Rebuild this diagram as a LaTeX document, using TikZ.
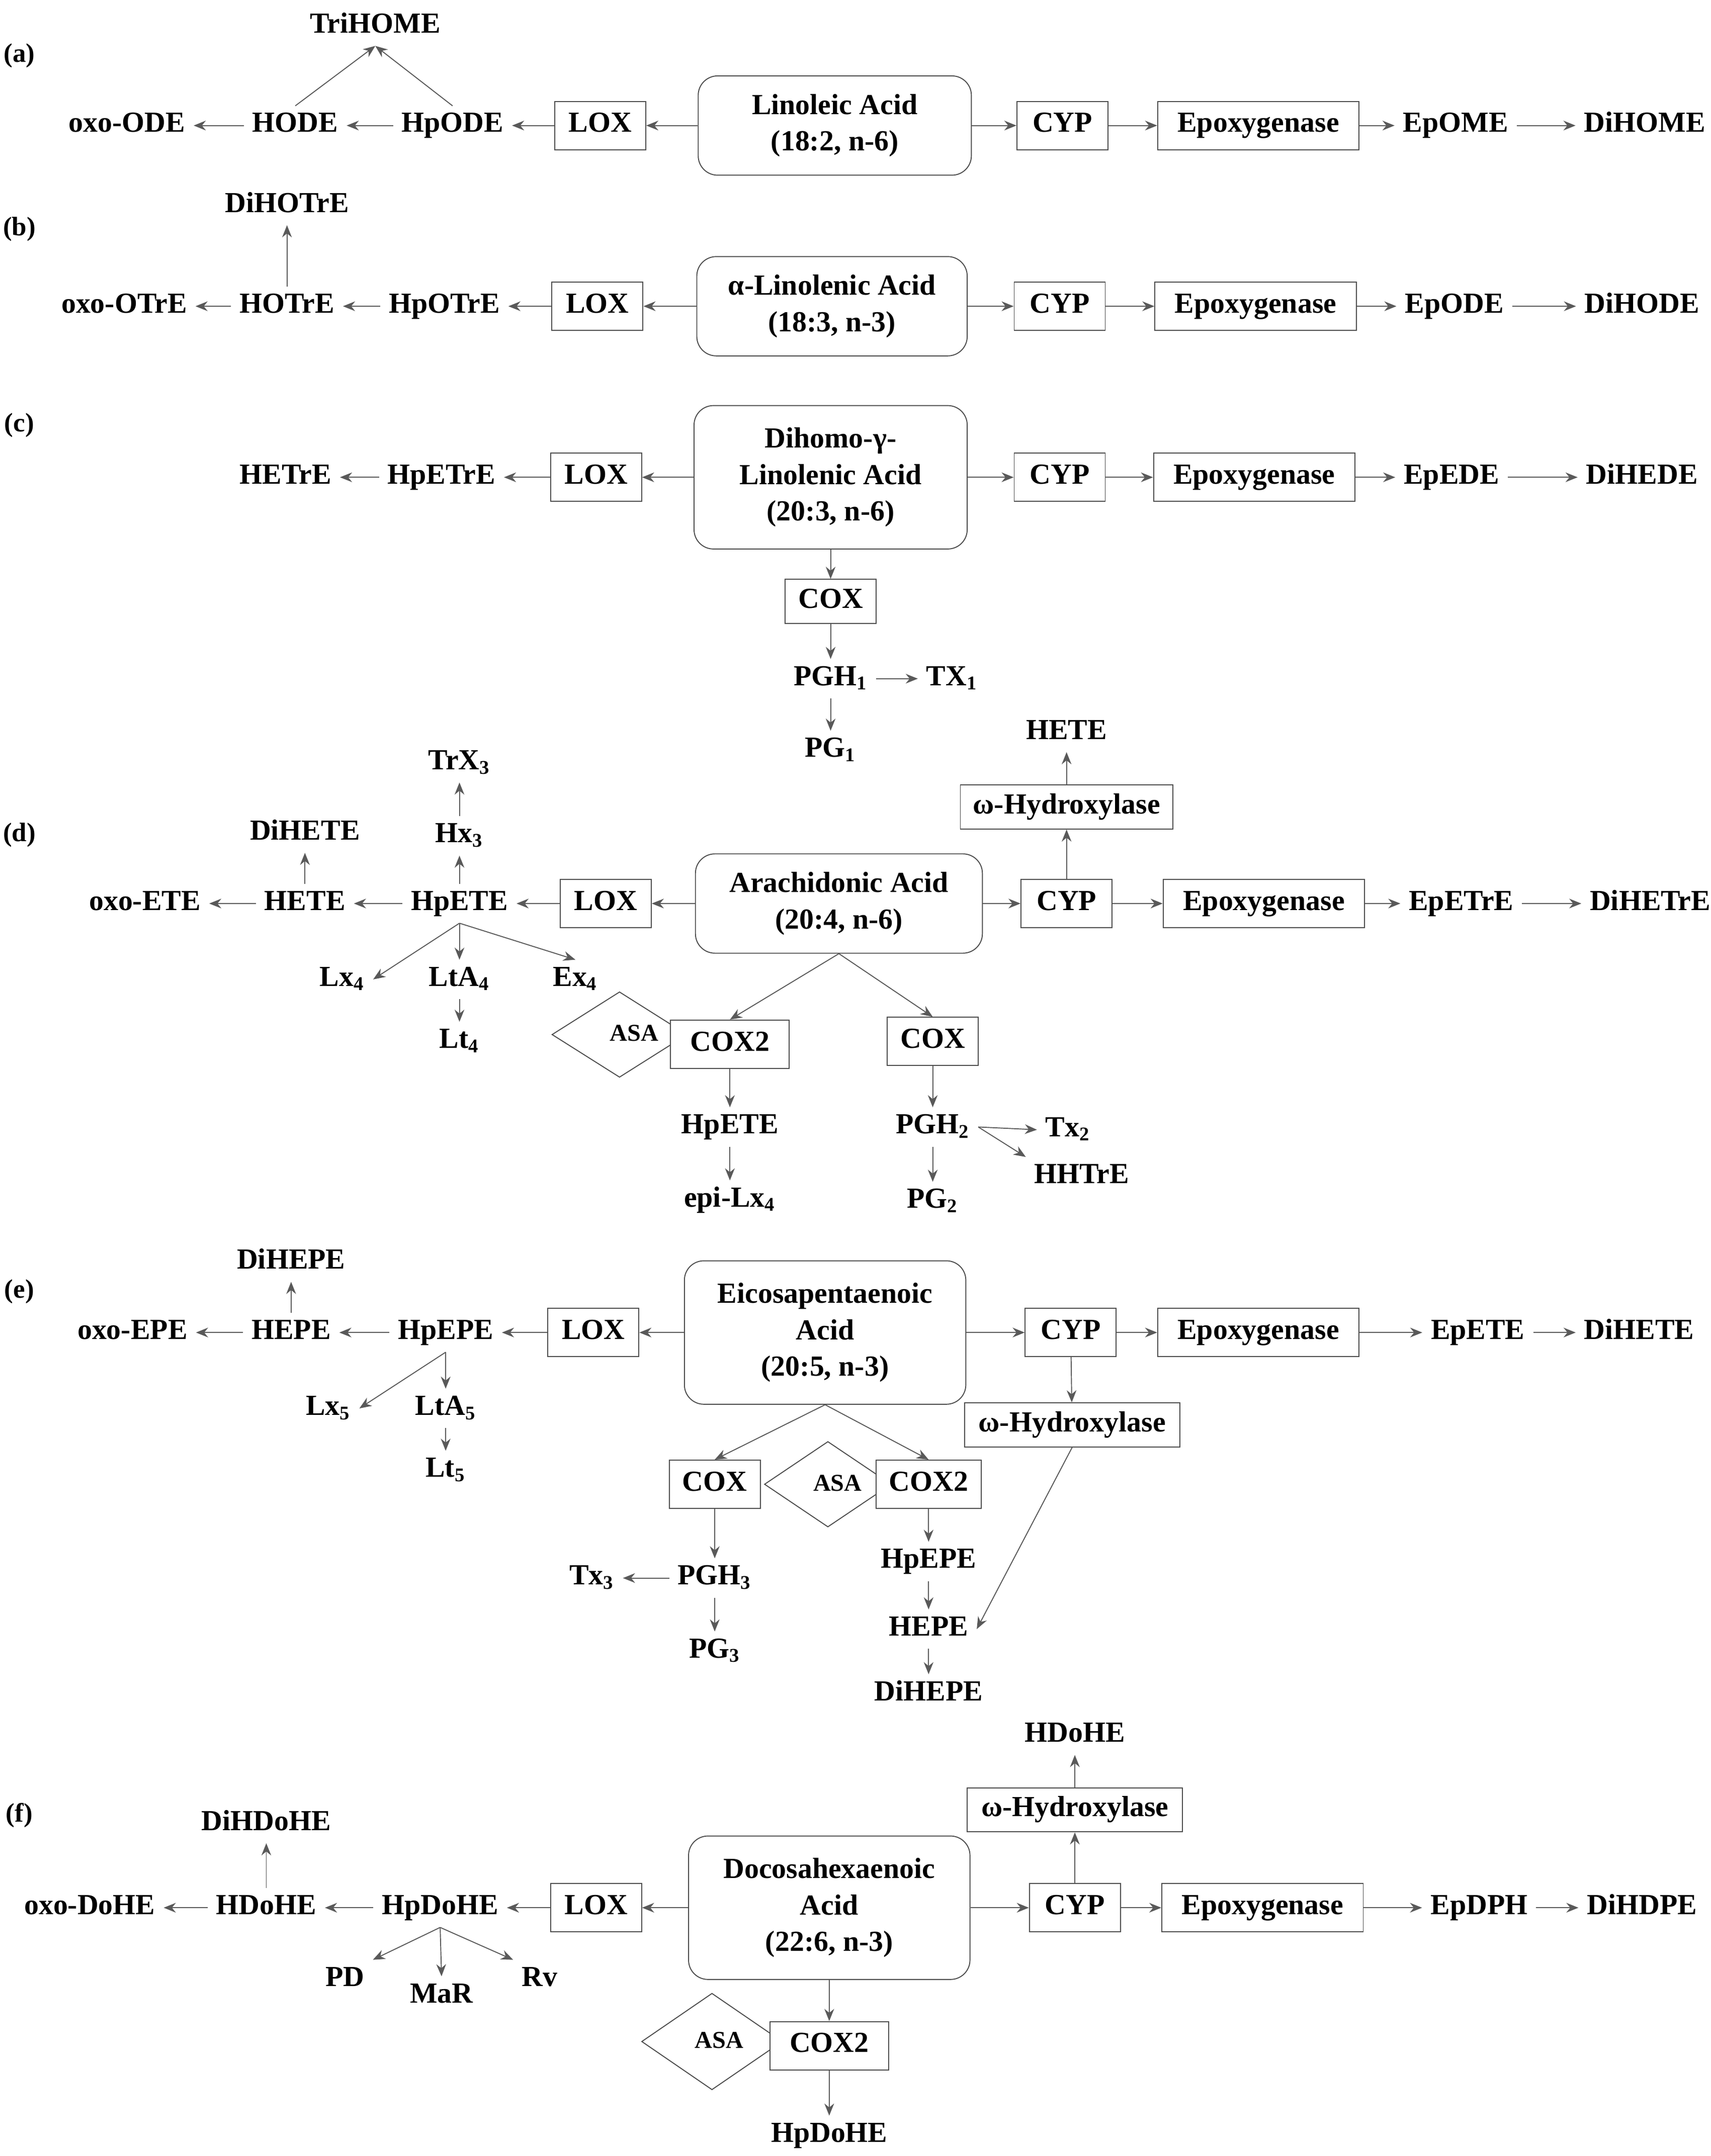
\documentclass[tikz,border=0pt]{standalone}
\usepackage{fontspec}
\setmainfont{Liberation Serif}
\usetikzlibrary{arrows.meta, positioning, shapes.geometric}

\begin{document}
\begin{tikzpicture}[
    x=0.02cm, y=-0.02cm,
    every node/.style={font=\fontsize{12}{15}\selectfont\bfseries, text height=1.6ex, text depth=.4ex},
    % Node styles
    box/.style={rectangle, draw=black!70, fill=white, minimum width=1.32cm, minimum height=0.7cm, inner sep=2pt},
    acid/.style={rectangle, draw=black!70, rounded corners=8pt, fill=white, align=center, minimum height=1.44cm, text height=, text depth=},
    asa/.style={diamond, draw=black!70, fill=white, aspect=1.55, inner sep=1pt, font=\fontsize{10}{12}\selectfont\bfseries},
    tag/.style={font=\fontsize{11}{13}\selectfont\bfseries},
    arr/.style={-{Stealth[length=5pt,width=4pt]}, draw=black!65},
]
\useasboundingbox (0,0) rectangle (1240,1563);

% ================= (a) =================
\node[tag] (la) at (14,40) {(a)};
\node[acid, minimum width=3.96cm] (aAcid) at (605,91) {Linoleic Acid\\(18:2, n-6)};
\node[box] (aLox) at (435,91) {LOX};
\node (aHp) at (328,91) {HpODE};
\node (aH) at (214,91) {HODE};
\node (aOxo) at (92,91) {oxo-ODE};
\node (aTri) at (272,19) {TriHOME};
\node[box] (aCyp) at (770,91) {CYP};
\node[box, minimum width=2.92cm] (aEpx) at (912,91) {Epoxygenase};
\node (aEp) at (1055,91) {EpOME};
\node (aDi) at (1192,91) {DiHOME};
\draw[arr] (aAcid) -- (aLox);
\draw[arr] (aLox) -- (aHp);
\draw[arr] (aHp) -- (aH);
\draw[arr] (aH) -- (aOxo);
\draw[arr] (aH.north) -- (aTri.south);
\draw[arr] (aHp.north) -- (aTri.south);
\draw[arr] (aAcid) -- (aCyp);
\draw[arr] (aCyp) -- (aEpx);
\draw[arr] (aEpx) -- (aEp);
\draw[arr] (aEp) -- (aDi);

% ================= (b) =================
\node[tag] (lb) at (14,166) {(b)};
\node[acid, minimum width=3.92cm] (bAcid) at (603,222) {α-Linolenic Acid\\(18:3, n-3)};
\node[box] (bLox) at (433,222) {LOX};
\node (bHp) at (322,222) {HpOTrE};
\node (bH) at (208,222) {HOTrE};
\node (bOxo) at (90,222) {oxo-OTrE};
\node (bDi2) at (208,149) {DiHOTrE};
\node[box] (bCyp) at (768,222) {CYP};
\node[box, minimum width=2.92cm] (bEpx) at (910,222) {Epoxygenase};
\node (bEp) at (1054,222) {EpODE};
\node (bDi) at (1190,222) {DiHODE};
\draw[arr] (bAcid) -- (bLox);
\draw[arr] (bLox) -- (bHp);
\draw[arr] (bHp) -- (bH);
\draw[arr] (bH) -- (bOxo);
\draw[arr] (bH) -- (bDi2);
\draw[arr] (bAcid) -- (bCyp);
\draw[arr] (bCyp) -- (bEpx);
\draw[arr] (bEpx) -- (bEp);
\draw[arr] (bEp) -- (bDi);

% ================= (c) =================
\node[tag] (lc) at (14,308) {(c)};
\node[acid, minimum width=3.96cm, minimum height=2.08cm] (cAcid) at (602,346) {Dihomo-γ-\\Linolenic Acid\\(20:3, n-6)};
\node[box] (cLox) at (432,346) {LOX};
\node (cHp) at (320,346) {HpETrE};
\node (cH) at (207,346) {HETrE};
\node[box] (cCyp) at (768,346) {CYP};
\node[box, minimum width=2.92cm] (cEpx) at (909,346) {Epoxygenase};
\node (cEp) at (1052,346) {EpEDE};
\node (cDi) at (1190,346) {DiHEDE};
\node[box, minimum height=0.64cm] (cCox) at (602,436) {COX};
\node (cPgh) at (602,492) {PGH\textsubscript{1}};
\node (cTx) at (690,492) {TX\textsubscript{1}};
\node (cPg) at (602,544) {PG\textsubscript{1}};
\draw[arr] (cAcid) -- (cLox);
\draw[arr] (cLox) -- (cHp);
\draw[arr] (cHp) -- (cH);
\draw[arr] (cAcid) -- (cCyp);
\draw[arr] (cCyp) -- (cEpx);
\draw[arr] (cEpx) -- (cEp);
\draw[arr] (cEp) -- (cDi);
\draw[arr] (cAcid) -- (cCox);
\draw[arr] (cCox) -- (cPgh);
\draw[arr] (cPgh) -- (cTx);
\draw[arr] (cPgh) -- (cPg);

% ================= (d) =================
\node[tag] (ld) at (14,605) {(d)};
\node[acid, minimum width=4.16cm] (dAcid) at (608,655) {Arachidonic Acid\\(20:4, n-6)};
\node[box] (dLox) at (439,655) {LOX};
\node (dHp) at (333,655) {HpETE};
\node (dH) at (221,655) {HETE};
\node (dOxo) at (105,655) {oxo-ETE};
\node (dDi2) at (221,604) {DiHETE};
\node (dHx) at (333,606) {Hx\textsubscript{3}};
\node (dTrx) at (333,553) {TrX\textsubscript{3}};
\node (dLx) at (248,710) {Lx\textsubscript{4}};
\node (dLta) at (333,710) {LtA\textsubscript{4}};
\node (dEx) at (417,710) {Ex\textsubscript{4}};
\node (dLt) at (333,755) {Lt\textsubscript{4}};
\node[box] (dCyp) at (773,655) {CYP};
\node[box, minimum width=3.08cm, minimum height=0.64cm] (dOh) at (773,585) {ω-Hydroxylase};
\node (dHete) at (773,531) {HETE};
\node[box, minimum width=2.92cm] (dEpx) at (916,655) {Epoxygenase};
\node (dEp) at (1059,655) {EpETrE};
\node (dDi) at (1196,655) {DiHETrE};
\node[asa, minimum width=1.96cm, minimum height=1.24cm] (dAsa) at (449,750) {\hspace{1.2em}ASA};
\node[box, minimum width=1.72cm] (dCox2) at (529,757) {COX2};
\node[box] (dCox) at (676,755) {COX};
\node (dHp2) at (529,817) {HpETE};
\node (dEpi) at (529,870) {epi-Lx\textsubscript{4}};
\node (dPgh) at (676,817) {PGH\textsubscript{2}};
\node (dTx) at (774,819) {Tx\textsubscript{2}};
\node (dHht) at (784,853) {HHTrE};
\node (dPg) at (676,871) {PG\textsubscript{2}};
\draw[arr] (dAcid) -- (dLox);
\draw[arr] (dLox) -- (dHp);
\draw[arr] (dHp) -- (dH);
\draw[arr] (dH) -- (dOxo);
\draw[arr] (dH) -- (dDi2);
\draw[arr] (dHp) -- (dHx);
\draw[arr] (dHx) -- (dTrx);
\draw[arr] (dHp.south) -- (dLx.east);
\draw[arr] (dHp) -- (dLta);
\draw[arr] (dHp.south) -- (dEx.north);
\draw[arr] (dLta) -- (dLt);
\draw[arr] (dAcid) -- (dCyp);
\draw[arr] (dCyp) -- (dOh);
\draw[arr] (dOh) -- (dHete);
\draw[arr] (dCyp) -- (dEpx);
\draw[arr] (dEpx) -- (dEp);
\draw[arr] (dEp) -- (dDi);
\draw[arr] (dAcid.south) -- (dCox2.north);
\draw[arr] (dAcid.south) -- (dCox.north);
\draw[arr] (dCox2) -- (dHp2);
\draw[arr] (dHp2) -- (dEpi);
\draw[arr] (dCox) -- (dPgh);
\draw[arr] (dPgh) -- (dPg);
\draw[arr] (dPgh.east) -- (dTx.west);
\draw[arr] (dPgh.east) -- (dHht.north west);

% ================= (e) =================
\node[tag] (le) at (14,936) {(e)};
\node[acid, minimum width=4.08cm, minimum height=2.08cm] (eAcid) at (598,966) {Eicosapentaenoic\\Acid\\(20:5, n-3)};
\node[box] (eLox) at (430,966) {LOX};
\node (eHp) at (323,966) {HpEPE};
\node (eH) at (211,966) {HEPE};
\node (eOxo) at (96,966) {oxo-EPE};
\node (eDi2) at (211,915) {DiHEPE};
\node (eLx) at (238,1021) {Lx\textsubscript{5}};
\node (eLta) at (323,1021) {LtA\textsubscript{5}};
\node (eLt) at (323,1066) {Lt\textsubscript{5}};
\node[box] (eCyp) at (776,966) {CYP};
\node[box, minimum width=3.12cm, minimum height=0.64cm] (eOh) at (777,1033) {ω-Hydroxylase};
\node[box, minimum width=2.92cm] (eEpx) at (912,966) {Epoxygenase};
\node (eEp) at (1071,966) {EpETE};
\node (eDi) at (1188,966) {DiHETE};
\node[box] (eCox) at (518,1076) {COX};
\node[asa, minimum width=1.84cm, minimum height=1.24cm] (eAsa) at (600,1076) {\hspace{0.8em}ASA};
\node[box, minimum width=1.52cm] (eCox2) at (673,1076) {COX2};
\node (ePgh) at (518,1144) {PGH\textsubscript{3}};
\node (eTx) at (429,1144) {Tx\textsubscript{3}};
\node (ePg) at (518,1197) {PG\textsubscript{3}};
\node (eHp2) at (673,1132) {HpEPE};
\node (eH2) at (673,1181) {HEPE};
\node (eDi3) at (673,1228) {DiHEPE};
\draw[arr] (eAcid) -- (eLox);
\draw[arr] (eLox) -- (eHp);
\draw[arr] (eHp) -- (eH);
\draw[arr] (eH) -- (eOxo);
\draw[arr] (eH) -- (eDi2);
\draw[arr] (eHp.south) -- (eLx.east);
\draw[arr] (eHp) -- (eLta);
\draw[arr] (eLta) -- (eLt);
\draw[arr] (eAcid) -- (eCyp);
\draw[arr] (eCyp) -- (eEpx);
\draw[arr] (eEpx) -- (eEp);
\draw[arr] (eEp) -- (eDi);
\draw[arr] (eCyp) -- (eOh);
\draw[arr] (eOh.south) -- (eH2.east);
\draw[arr] (eAcid.south) -- (eCox.north);
\draw[arr] (eAcid.south) -- (eCox2.north);
\draw[arr] (eCox) -- (ePgh);
\draw[arr] (ePgh) -- (eTx);
\draw[arr] (ePgh) -- (ePg);
\draw[arr] (eCox2) -- (eHp2);
\draw[arr] (eHp2) -- (eH2);
\draw[arr] (eH2) -- (eDi3);

% ================= (f) =================
\node[tag] (lf) at (14,1316) {(f)};
\node[acid, minimum width=4.08cm, minimum height=2.08cm] (fAcid) at (601,1383) {Docosahexaenoic\\Acid\\(22:6, n-3)};
\node[box] (fLox) at (432,1383) {LOX};
\node (fHp) at (319,1383) {HpDoHE};
\node (fH) at (193,1383) {HDoHE};
\node (fOxo) at (65,1383) {oxo-DoHE};
\node (fDi2) at (193,1322) {DiHDoHE};
\node (fPd) at (250,1435) {PD};
\node (fMar) at (320,1447) {MaR};
\node (fRv) at (391,1435) {Rv};
\node[box] (fCyp) at (779,1383) {CYP};
\node[box, minimum width=3.12cm, minimum height=0.64cm] (fOh) at (779,1312) {ω-Hydroxylase};
\node (fHdo) at (779,1258) {HDoHE};
\node[box, minimum width=2.92cm] (fEpx) at (915,1383) {Epoxygenase};
\node (fEp) at (1072,1383) {EpDPH};
\node (fDi) at (1190,1383) {DiHDPE};
\node[asa, minimum width=2.04cm, minimum height=1.4cm] (fAsa) at (516,1480) {\hspace{0.6em}ASA};
\node[box, minimum width=1.72cm] (fCox2) at (601,1483) {COX2};
\node (fHp2) at (601,1548) {HpDoHE};
\draw[arr] (fAcid) -- (fLox);
\draw[arr] (fLox) -- (fHp);
\draw[arr] (fHp) -- (fH);
\draw[arr] (fH) -- (fOxo);
\draw[arr] (fH) -- (fDi2);
\draw[arr] (fHp.south) -- (fPd.north east);
\draw[arr] (fHp.south) -- (fMar.north);
\draw[arr] (fHp.south) -- (fRv.north west);
\draw[arr] (fAcid) -- (fCyp);
\draw[arr] (fCyp) -- (fOh);
\draw[arr] (fOh) -- (fHdo);
\draw[arr] (fCyp) -- (fEpx);
\draw[arr] (fEpx) -- (fEp);
\draw[arr] (fEp) -- (fDi);
\draw[arr] (fAcid) -- (fCox2);
\draw[arr] (fCox2) -- (fHp2);
\end{tikzpicture}
\end{document}
